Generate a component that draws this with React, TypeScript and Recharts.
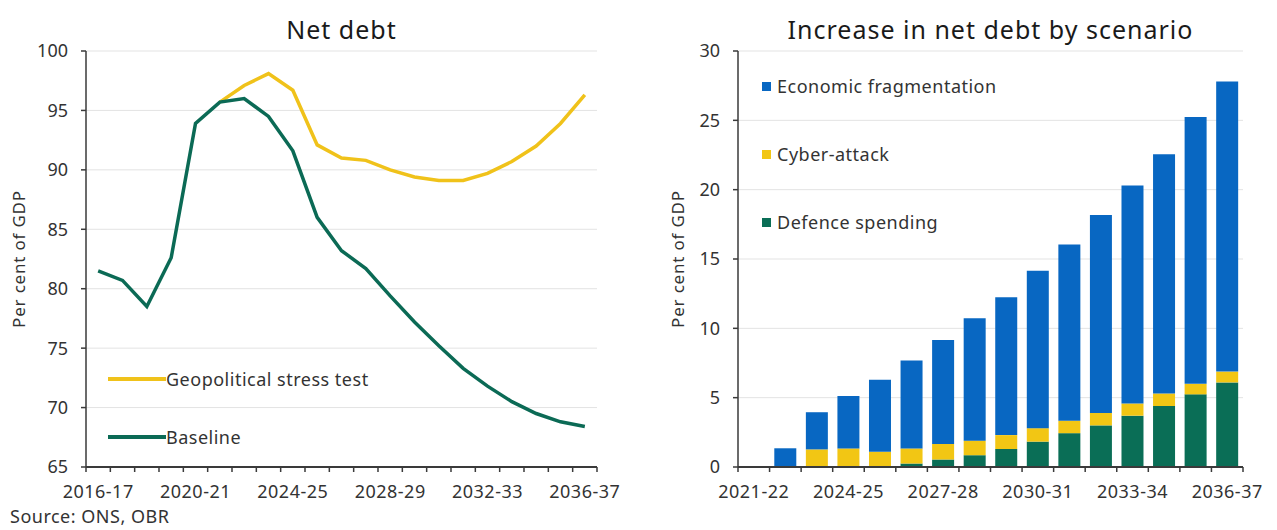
import React from 'react'
import {
  LineChart,
  Line,
  BarChart,
  Bar,
  XAxis,
  YAxis,
  CartesianGrid,
  Legend,
} from 'recharts'

const FONT = '"Noto Sans", "DejaVu Sans", sans-serif'
const TEXT = '#333'
const AXIS = '#3a3a3a'

// left panel: net debt, per cent of GDP
const lineYears = [
  '2016-17', '2017-18', '2018-19', '2019-20', '2020-21', '2021-22', '2022-23',
  '2023-24', '2024-25', '2025-26', '2026-27', '2027-28', '2028-29', '2029-30',
  '2030-31', '2031-32', '2032-33', '2033-34', '2034-35', '2035-36', '2036-37',
]
const baseline = [
  81.5, 80.7, 78.5, 82.6, 93.9, 95.7, 96.0, 94.5, 91.6, 86.0, 83.2,
  81.7, 79.4, 77.2, 75.2, 73.3, 71.8, 70.5, 69.5, 68.8, 68.4,
]
const stressTest = [
  null, null, null, null, null, 95.7, 97.1, 98.1, 96.7, 92.1, 91.0,
  90.8, 90.0, 89.4, 89.1, 89.1, 89.7, 90.7, 92.0, 93.9, 96.3,
]
const leftTicks = [65, 70, 75, 80, 85, 90, 95, 100]

// right panel: increase in net debt by scenario
const barYears = [
  '2021-22', '2022-23', '2023-24', '2024-25', '2025-26', '2026-27', '2027-28', '2028-29',
  '2029-30', '2030-31', '2031-32', '2032-33', '2033-34', '2034-35', '2035-36', '2036-37',
]
const defence = [0, 0, 0, 0, 0, 0.25, 0.54, 0.85, 1.3, 1.83, 2.44, 3.0, 3.7, 4.4, 5.24, 6.1]
const cyber = [0, 0, 1.27, 1.34, 1.1, 1.09, 1.12, 1.05, 1.0, 0.97, 0.9, 0.9, 0.88, 0.9, 0.76, 0.78]
const economic = [0, 1.35, 2.68, 3.78, 5.2, 6.34, 7.49, 8.83, 9.94, 11.35, 12.71, 14.27, 15.72, 17.26, 19.24, 20.92]
const rightTicks = [0, 5, 10, 15, 20, 25, 30]

const lineSeries = [
  { key: 'stress', name: 'Geopolitical stress test', color: '#F0C21A' },
  { key: 'baseline', name: 'Baseline', color: '#0B6A55' },
]
const barSeries = [
  { key: 'economic', name: 'Economic fragmentation', color: '#0867C2' },
  { key: 'cyber', name: 'Cyber-attack', color: '#F2C614' },
  { key: 'defence', name: 'Defence spending', color: '#0A6E56' },
]

const lineData = lineYears.map((year, i) => ({
  year,
  baseline: baseline[i],
  stress: stressTest[i],
}))
const barData = barYears.map((year, i) => ({
  year,
  defence: defence[i],
  cyber: cyber[i],
  economic: economic[i],
}))

// x axis tick: boundary tick marks between categories, label every n-th
const makeXTick = (count: number, every: number, half: number) => (props: any) => {
  const { x, y, payload, index } = props
  return (
    <g>
      <line x1={x - half} x2={x - half} y1={y} y2={y + 5} stroke={AXIS} strokeWidth={1.5} />
      {index === count - 1 && (
        <line x1={x + half} x2={x + half} y1={y} y2={y + 5} stroke={AXIS} strokeWidth={1.5} />
      )}
      {index % every === 0 && (
        <text
          x={x}
          y={y + 18}
          dy="0.71em"
          textAnchor="middle"
          fill={TEXT}
          fontSize={18}
          fontFamily={FONT}
          letterSpacing={0.5}
        >
          {payload.value}
        </text>
      )}
    </g>
  )
}

const YLabel = ({ viewBox, posX }: any) => {
  const cy = viewBox.y + viewBox.height / 2
  return (
    <text
      transform={`translate(${posX},${cy}) rotate(-90)`}
      textAnchor="middle"
      dominantBaseline="central"
      fill={TEXT}
      fontSize={17}
      fontFamily={FONT}
      letterSpacing={0.8}
    >
      Per cent of GDP
    </text>
  )
}

const LineLegend = () => (
  <div style={{ fontFamily: FONT, fontSize: 18, color: TEXT, letterSpacing: 0.5 }}>
    {lineSeries.map((s) => (
      <div key={s.key} style={{ display: 'flex', alignItems: 'center', height: 58 }}>
        <span style={{ display: 'inline-block', width: 58, height: 4, background: s.color }} />
        <span>{s.name}</span>
      </div>
    ))}
  </div>
)

const BarLegend = () => (
  <div style={{ fontFamily: FONT, fontSize: 18, color: TEXT, letterSpacing: 0.5 }}>
    {barSeries.map((s) => (
      <div key={s.key} style={{ display: 'flex', alignItems: 'center', height: 68 }}>
        <span style={{ display: 'inline-block', width: 9, height: 9, background: s.color, marginRight: 6 }} />
        <span>{s.name}</span>
      </div>
    ))}
  </div>
)

const titleStyle: React.CSSProperties = {
  position: 'absolute',
  top: 12,
  fontFamily: FONT,
  fontSize: 25,
  color: '#1a1a1a',
  letterSpacing: 1,
  textAlign: 'center',
  whiteSpace: 'nowrap',
}

export default function App() {
  return (
    <div style={{ position: 'absolute', left: 0, top: 0, width: 1277, height: 530, background: '#fff' }}>
      <div style={{ ...titleStyle, left: 86, width: 511 }}>Net debt</div>
      <div style={{ ...titleStyle, left: 738, width: 505 }}>Increase in net debt by scenario</div>

      <div style={{ position: 'absolute', left: 0, top: 0 }}>
        <LineChart width={620} height={530} data={lineData} margin={{ top: 51, right: 23, bottom: 23, left: 0 }}>
          <CartesianGrid vertical={false} stroke="#e3e3e3" />
          <XAxis
            dataKey="year"
            height={40}
            interval={0}
            padding={{ left: 12.17, right: 12.17 }}
            tickLine={false}
            tickSize={0}
            tickMargin={0}
            axisLine={{ stroke: AXIS, strokeWidth: 2 }}
            tick={makeXTick(lineYears.length, 4, 12.17)}
          />
          <YAxis
            width={86}
            domain={[65, 100]}
            ticks={leftTicks}
            interval={0}
            tickSize={5}
            tickMargin={13}
            axisLine={{ stroke: AXIS, strokeWidth: 1.5 }}
            tickLine={{ stroke: AXIS, strokeWidth: 1.5 }}
            tick={{ fill: TEXT, fontSize: 18, fontFamily: FONT }}
            label={<YLabel posX={18} />}
          />
          <Legend
            layout="vertical"
            align="center"
            verticalAlign="middle"
            content={<LineLegend />}
            wrapperStyle={{ left: 108, top: 350, width: 'auto', height: 'auto' }}
          />
          {lineSeries.map((s) => (
            <Line
              key={s.key}
              type="linear"
              dataKey={s.key}
              name={s.name}
              stroke={s.color}
              strokeWidth={3.5}
              dot={false}
              connectNulls={false}
              isAnimationActive={false}
            />
          ))}
        </LineChart>
      </div>

      <div style={{ position: 'absolute', left: 640, top: 0 }}>
        <BarChart
          width={637}
          height={530}
          data={barData}
          margin={{ top: 51, right: 34, bottom: 23, left: 0 }}
          barCategoryGap="15%"
        >
          <CartesianGrid vertical={false} stroke="#e3e3e3" />
          <XAxis
            dataKey="year"
            height={40}
            interval={0}
            tickLine={false}
            tickSize={0}
            tickMargin={0}
            axisLine={{ stroke: AXIS, strokeWidth: 2 }}
            tick={makeXTick(barYears.length, 3, 505 / 32)}
          />
          <YAxis
            width={98}
            domain={[0, 30]}
            ticks={rightTicks}
            interval={0}
            tickSize={5}
            tickMargin={13}
            axisLine={{ stroke: AXIS, strokeWidth: 1.5 }}
            tickLine={{ stroke: AXIS, strokeWidth: 1.5 }}
            tick={{ fill: TEXT, fontSize: 18, fontFamily: FONT }}
            label={<YLabel posX={37} />}
          />
          <Legend
            layout="vertical"
            align="center"
            verticalAlign="middle"
            content={<BarLegend />}
            wrapperStyle={{ left: 122, top: 52, width: 'auto', height: 'auto' }}
          />
          <Bar dataKey="defence" name="Defence spending" stackId="a" fill="#0A6E56" isAnimationActive={false} />
          <Bar dataKey="cyber" name="Cyber-attack" stackId="a" fill="#F2C614" isAnimationActive={false} />
          <Bar dataKey="economic" name="Economic fragmentation" stackId="a" fill="#0867C2" isAnimationActive={false} />
        </BarChart>
      </div>

      <div
        style={{
          position: 'absolute',
          left: 10,
          top: 504,
          fontFamily: FONT,
          fontSize: 18,
          color: TEXT,
          letterSpacing: 0.5,
        }}
      >
        Source: ONS, OBR
      </div>
    </div>
  )
}
